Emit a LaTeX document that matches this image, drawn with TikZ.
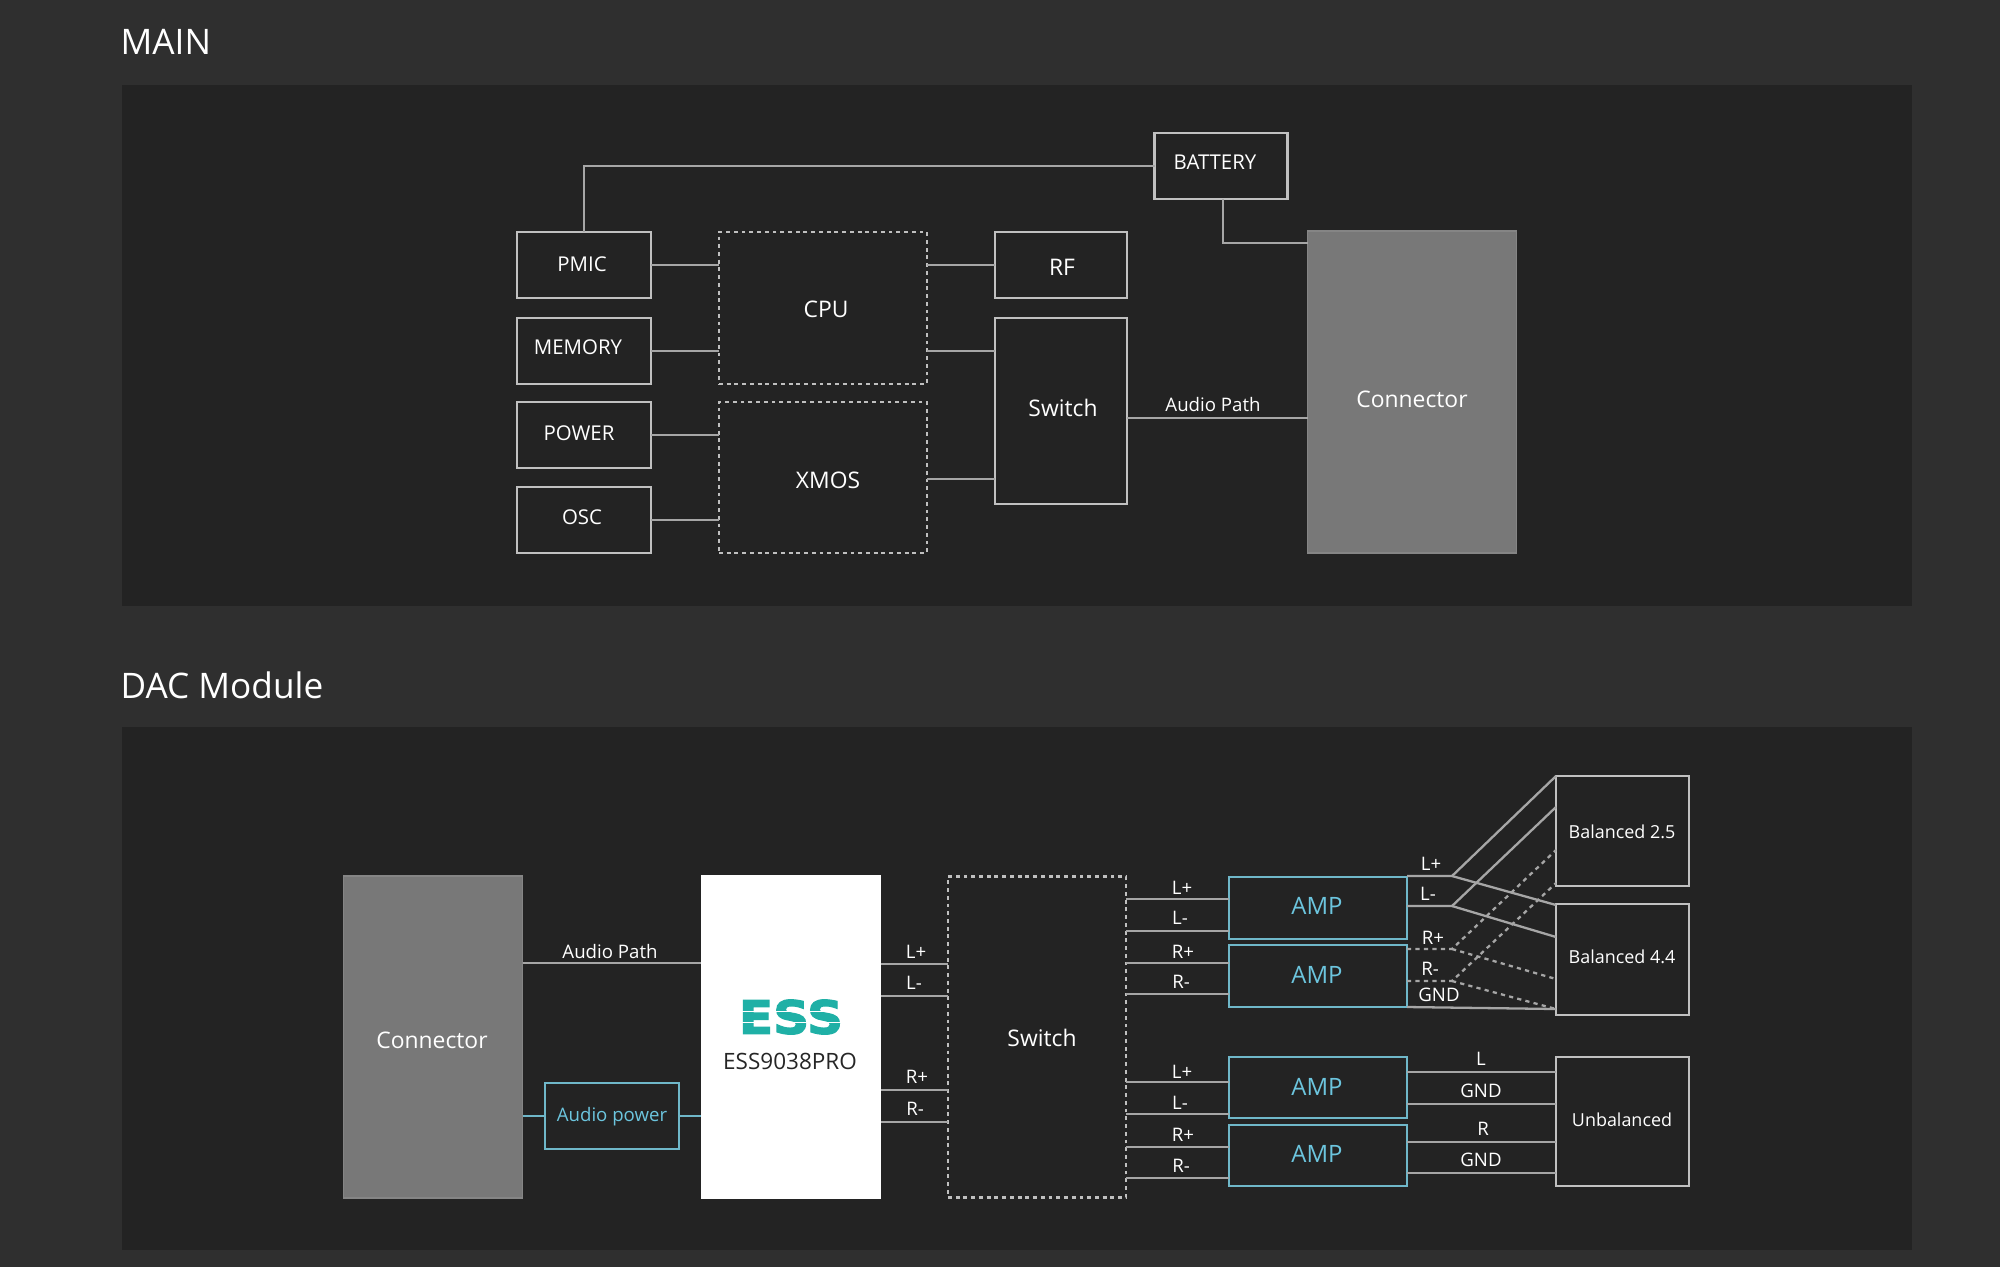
\documentclass[tikz,border=0pt]{standalone}
\usepackage{fontspec}
\setmainfont{Open Sans}
\newfontfamily\logofont[FakeBold=2.5]{DejaVu Sans Bold}
\usepackage{graphicx}
\usepackage{xcolor}
\usetikzlibrary{positioning}
\definecolor{pagebg}{HTML}{2F2F2F}
\definecolor{panelbg}{HTML}{232323}
\definecolor{wiregray}{HTML}{A6A6A6}
\definecolor{boxgray}{HTML}{C0C0C0}
\definecolor{ampteal}{HTML}{6FB7C9}
\definecolor{amptext}{HTML}{6CC5DE}
\definecolor{conngray}{HTML}{787878}
\definecolor{esslogo}{HTML}{1FB0A6}
\tikzset{
  size/.style 2 args={minimum width=#1*0.01cm,minimum height=#2*0.01cm},
  box/.style={draw=boxgray,line width=0.6pt,fill=panelbg,inner sep=0pt,outer sep=0pt},
  dashbox/.style={box,dash pattern=on 1.1pt off 1.1pt},
  tealbox/.style={box,draw=ampteal},
  connbox/.style={draw=conngray!90!white,line width=0.4pt,fill=conngray,inner sep=0pt,outer sep=0pt},
  wire/.style={draw=wiregray,line width=0.65pt},
  dashwire/.style={wire,dash pattern=on 1.2pt off 1.2pt},
  tealwire/.style={draw=ampteal,line width=0.5pt},
  lab/.style={text=white,inner sep=0pt,font=\fontsize{5.3}{7}\selectfont},
  boxtxt/.style={text=white,inner sep=0pt,font=\fontsize{5.8}{7}\selectfont},
  bigtxt/.style={text=white,inner sep=0pt,font=\fontsize{6.5}{8}\selectfont},
  amptxt/.style={text=amptext,inner sep=0pt,font=\fontsize{6.8}{8}\selectfont},
  title/.style={text=white,inner sep=0pt,anchor=west,font=\fontsize{10}{12}\selectfont}
}
\begin{document}
\begin{tikzpicture}[x=0.01cm,y=-0.01cm]
\useasboundingbox(0,0)rectangle(2000,1266);
\fill[pagebg](-5,-5)rectangle(2005,1271);
\fill[panelbg](122,85)rectangle(1912,606);
\fill[panelbg](122,727)rectangle(1912,1250);
\node[title](maintitle)at(120,42){MAIN};
\node[title](dactitle)at(120,685){DAC Module};

\node[box,size={133}{66}](battery)at(1221,166){};
\node[box,size={134}{66}](pmic)at(584,265){};
\node[box,size={134}{66}](memory)at(584,351){};
\node[box,size={134}{66}](power)at(584,435){};
\node[box,size={134}{66}](osc)at(584,520){};
\node[dashbox,size={208}{152}](cpu)at(823,308){};
\node[dashbox,size={208}{151}](xmos)at(823,477.5){};
\node[box,size={132}{66}](rf)at(1061,265){};
\node[box,size={132}{186}](switcha)at(1061,411){};
\node[connbox,size={209}{322}](connectora)at(1412,392){};
\node[boxtxt](batterytxt)at(1215,162){BATTERY};
\node[boxtxt](pmictxt)at(582,264){PMIC};
\node[boxtxt](memorytxt)at(578,347){MEMORY};
\node[boxtxt](powertxt)at(579,433){POWER};
\node[boxtxt](osctxt)at(582,517){OSC};
\node[bigtxt](cputxt)at(826,309){CPU};
\node[bigtxt](xmostxt)at(828,480){XMOS};
\node[bigtxt](rftxt)at(1062,267){RF};
\node[bigtxt](switchatxt)at(1063,408){Switch};
\node[bigtxt](connectoratxt)at(1412,399){Connector};

\draw[wire](pmic.north)--(pmic.north|-battery.west)--(battery.west);
\draw[wire](battery.south-|1223,0)--(1223,243)--(connectora.west|-0,243);
\draw[wire](pmic.east)--(pmic.east-|cpu.west);
\draw[wire](memory.east)--(memory.east-|cpu.west);
\draw[wire](power.east)--(power.east-|xmos.west);
\draw[wire](osc.east)--(osc.east-|xmos.west);
\draw[wire](rf.west)--(rf.west-|cpu.east);
\draw[wire](switcha.west|-memory.east)--(cpu.east|-memory.east);
\draw[wire](switcha.west|-0,479)--(xmos.east|-0,479);
\draw[wire,line width=0.8pt](switcha.east|-0,418)--(connectora.west|-0,418);
\node[lab](audioa)at(1213,404){Audio Path};

\node[connbox,size={179}{322}](connectorb)at(433,1037){};
\node[draw=white,fill=white,inner sep=0pt,size={178}{322}](chip)at(791,1037){};
\node[inner sep=0pt,text=esslogo](logo)at(791,1017){\resizebox{1.04cm}{0.34cm}{\logofont ESS}};
\draw[white,line width=0.35pt](logo.west|-0,1011.5)--(logo.east|-0,1011.5);
\draw[white,line width=0.35pt](logo.west|-0,1022.5)--(logo.east|-0,1022.5);
\node[lab,text=black!85,font=\fontsize{6.4}{8}\selectfont](chiptxt)at(790,1061){ESS9038PRO};
\node[dashbox,size={178}{321}](switchb)at(1037,1037){};
\node[tealbox,line width=0.5pt,size={134}{66}](audiopower)at(612,1116){};
\node[tealbox,size={178}{62}](ampa)at(1318,908){};
\node[tealbox,size={178}{62}](ampb)at(1318,976){};
\node[tealbox,size={178}{61}](ampc)at(1318,1087.5){};
\node[tealbox,size={178}{61}](ampd)at(1318,1155.5){};
\node[box,size={133}{110}](baltwo)at(1622.5,831){};
\node[box,size={133}{111}](balfour)at(1622.5,959.5){};
\node[box,size={133}{129}](unbal)at(1622.5,1121.5){};
\node[bigtxt](connectorbtxt)at(432,1040){Connector};
\node[bigtxt](switchbtxt)at(1042,1038){Switch};
\node[lab,text=amptext](audiopowertxt)at(612,1117){Audio power};
\node[amptxt](ampatxt)at(1317,906){AMP};
\node[amptxt](ampbtxt)at(1317,975){AMP};
\node[amptxt](ampctxt)at(1317,1087){AMP};
\node[amptxt](ampdtxt)at(1317,1154){AMP};
\node[lab,font=\fontsize{5.1}{7}\selectfont](baltwotxt)at(1622,832){Balanced 2.5};
\node[lab,font=\fontsize{5.1}{7}\selectfont](balfourtxt)at(1622,957){Balanced 4.4};
\node[lab,font=\fontsize{5.1}{7}\selectfont](unbaltxt)at(1622,1120){Unbalanced};

\draw[wire](connectorb.east|-0,963)--(chip.west|-0,963);
\node[lab](audiob)at(610,951){Audio Path};
\draw[tealwire](connectorb.east|-audiopower.west)--(audiopower.west);
\draw[tealwire](audiopower.east)--(chip.west|-audiopower.east);

\draw[wire](chip.east|-0,964)--(switchb.west|-0,964);
\draw[wire](chip.east|-0,996)--(switchb.west|-0,996);
\draw[wire](chip.east|-0,1090)--(switchb.west|-0,1090);
\draw[wire](chip.east|-0,1122)--(switchb.west|-0,1122);
\node[lab](chiplp)at(916,952){L+};
\node[lab](chipln)at(914,983){L-};
\node[lab](chiprp)at(917,1077){R+};
\node[lab](chiprn)at(915,1109){R-};

\draw[wire](switchb.east|-0,899)--(ampa.west|-0,899);
\draw[wire](switchb.east|-0,931)--(ampa.west|-0,931);
\draw[wire](switchb.east|-0,963)--(ampb.west|-0,963);
\draw[wire](switchb.east|-0,994)--(ampb.west|-0,994);
\draw[wire](switchb.east|-0,1082)--(ampc.west|-0,1082);
\draw[wire](switchb.east|-0,1114)--(ampc.west|-0,1114);
\draw[wire](switchb.east|-0,1147)--(ampd.west|-0,1147);
\draw[wire](switchb.east|-0,1178)--(ampd.west|-0,1178);
\node[lab](swalp)at(1182,888){L+};
\node[lab](swaln)at(1180,918){L-};
\node[lab](swarp)at(1183,952){R+};
\node[lab](swarn)at(1181,982){R-};
\node[lab](swblp)at(1182,1072){L+};
\node[lab](swbln)at(1180,1103){L-};
\node[lab](swbrp)at(1183,1135){R+};
\node[lab](swbrn)at(1181,1166){R-};

\coordinate(kinklp)at(1452,876);
\coordinate(kinkln)at(1452,906);
\coordinate(kinkrp)at(1452,949);
\coordinate(kinkrn)at(1452,981);
\draw[wire](ampa.east|-kinklp)--(kinklp)--(baltwo.west|-0,776);
\draw[wire](kinklp)--(balfour.west|-0,905);
\draw[wire](ampa.east|-kinkln)--(kinkln)--(baltwo.west|-0,807);
\draw[wire](kinkln)--(balfour.west|-0,937);
\draw[dashwire](ampb.east|-kinkrp)--(kinkrp)--(baltwo.west|-0,850);
\draw[dashwire](kinkrp)--(balfour.west|-0,979);
\draw[dashwire](ampb.east|-kinkrn)--(kinkrn)--(baltwo.west|-0,883);
\draw[dashwire](kinkrn)--(balfour.west|-0,1009);
\draw[wire](ampb.east|-0,1007)--(balfour.west|-0,1009);
\node[lab](ampalp)at(1431,864){L+};
\node[lab](ampaln)at(1428,894){L-};
\node[lab](ampbrp)at(1433,938){R+};
\node[lab](ampbrn)at(1430,969){R-};
\node[lab](ampbgnd)at(1439,995){GND};

\draw[wire](ampc.east|-0,1072)--(unbal.west|-0,1072);
\draw[wire](ampc.east|-0,1104)--(unbal.west|-0,1104);
\draw[wire](ampd.east|-0,1142)--(unbal.west|-0,1142);
\draw[wire](ampd.east|-0,1173)--(unbal.west|-0,1173);
\node[lab](unbl)at(1481,1059){L};
\node[lab](unbga)at(1481,1091){GND};
\node[lab](unbr)at(1483,1129){R};
\node[lab](unbgb)at(1481,1160){GND};
\end{tikzpicture}
\end{document}
